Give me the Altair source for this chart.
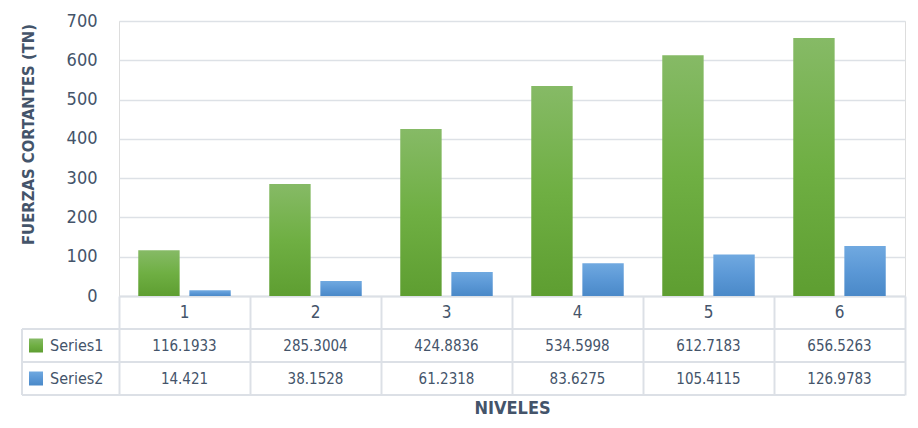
import altair as alt
import pandas as pd

levels = ["1", "2", "3", "4", "5", "6"]
series_names = ["Series1", "Series2"]
series1 = [116.1933, 285.3004, 424.8836, 534.5998, 612.7183, 656.5263]
series2 = [14.421, 38.1528, 61.2318, 83.6275, 105.4115, 126.9783]
series1_txt = ["116.1933", "285.3004", "424.8836", "534.5998", "612.7183", "656.5263"]
series2_txt = ["14.421", "38.1528", "61.2318", "83.6275", "105.4115", "126.9783"]
y_ticks = [0, 100, 200, 300, 400, 500, 600, 700]

rows = []
for i, lv in enumerate(levels):
    rows.append({"level": lv, "series": "Series1", "value": series1[i], "label": series1_txt[i]})
    rows.append({"level": lv, "series": "Series2", "value": series2[i], "label": series2_txt[i]})
df = pd.DataFrame(rows)

W, H = 786, 275
ROW = 33
FONT = "DejaVu Sans Condensed, sans-serif"
TXT = "#44546A"
LINE = "#DCE0E6"

green = alt.LinearGradient(gradient="linear", x1=0, x2=0, y1=0, y2=1,
                           stops=[alt.GradientStop(color="#86BA66", offset=0),
                                  alt.GradientStop(color="#6FAF43", offset=0.5),
                                  alt.GradientStop(color="#5E9E31", offset=1)])
blue = alt.LinearGradient(gradient="linear", x1=0, x2=0, y1=0, y2=1,
                          stops=[alt.GradientStop(color="#70A9E0", offset=0),
                                 alt.GradientStop(color="#5B98D6", offset=0.5),
                                 alt.GradientStop(color="#4A89C8", offset=1)])

xenc = alt.X("level:N", sort=levels,
             scale=alt.Scale(paddingInner=0, paddingOuter=0),
             axis=alt.Axis(title="NIVELES", labels=False, ticks=True, tickBand="extent",
                           tickSize=3 * ROW, tickColor=LINE, tickWidth=2,
                           domainColor=LINE, domainWidth=2,
                           titleFont=FONT, titleFontSize=18, titleFontWeight="bold",
                           titleColor=TXT, titlePadding=3))
yenc = alt.Y("value:Q", scale=alt.Scale(domain=[0, 700]),
             axis=alt.Axis(title="FUERZAS CORTANTES (TN)", values=y_ticks, ticks=False, domain=False,
                           grid=True, gridColor="#DDE1E6", gridWidth=1.5,
                           labelFont=FONT, labelFontSize=18, labelColor=TXT, labelPadding=22,
                           titleFont=FONT, titleFontSize=16.5, titleFontWeight="bold", titleColor=TXT,
                           titleX=-91, titleY=113, titleAlign="center", titleBaseline="middle"))
xoff = alt.XOffset("series:N", scale=alt.Scale(domain=series_names, paddingInner=0.19, paddingOuter=0.377))

base = alt.Chart(df)

bar1 = base.transform_filter(alt.datum.series == "Series1").mark_bar(color=green).encode(
    x=xenc, xOffset=xoff, y=yenc)
bar2 = base.transform_filter(alt.datum.series == "Series2").mark_bar(color=blue).encode(
    x=xenc, xOffset=xoff, y=yenc)

txt_kw = dict(font=FONT, color=TXT, baseline="middle", align="center")
header = base.transform_filter(alt.datum.series == "Series1").mark_text(fontSize=17, **txt_kw).encode(
    x=alt.X("level:N", sort=levels), y=alt.value(H + ROW / 2), text="level:N")
vals1 = base.transform_filter(alt.datum.series == "Series1").mark_text(fontSize=15, **txt_kw).encode(
    x=alt.X("level:N", sort=levels), y=alt.value(H + ROW * 1.5), text="label:N")
vals2 = base.transform_filter(alt.datum.series == "Series2").mark_text(fontSize=15, **txt_kw).encode(
    x=alt.X("level:N", sort=levels), y=alt.value(H + ROW * 2.5), text="label:N")

lab_kw = dict(font=FONT, color=TXT, baseline="middle", align="left", fontSize=16)
name1 = base.transform_filter((alt.datum.series == "Series1") & (alt.datum.level == "1")).mark_text(**lab_kw).encode(
    x=alt.value(-69), y=alt.value(H + ROW * 1.5), text="series:N")
name2 = base.transform_filter((alt.datum.series == "Series2") & (alt.datum.level == "1")).mark_text(**lab_kw).encode(
    x=alt.value(-69), y=alt.value(H + ROW * 2.5), text="series:N")

sq1 = base.transform_filter((alt.datum.series == "Series1") & (alt.datum.level == "1")).mark_rect(color=green).encode(
    x=alt.value(-90), x2=alt.value(-76), y=alt.value(H + ROW * 1.5 - 7), y2=alt.value(H + ROW * 1.5 + 7))
sq2 = base.transform_filter((alt.datum.series == "Series2") & (alt.datum.level == "1")).mark_rect(color=blue).encode(
    x=alt.value(-90), x2=alt.value(-76), y=alt.value(H + ROW * 2.5 - 7), y2=alt.value(H + ROW * 2.5 + 7))

rule_kw = dict(color=LINE, strokeWidth=2)
one = base.transform_filter((alt.datum.series == "Series1") & (alt.datum.level == "1"))
r1 = one.mark_rule(**rule_kw).encode(x=alt.value(-97), x2=alt.value(W), y=alt.value(H + ROW))
r2 = one.mark_rule(**rule_kw).encode(x=alt.value(-97), x2=alt.value(W), y=alt.value(H + 2 * ROW))
r3 = one.mark_rule(**rule_kw).encode(x=alt.value(-97), x2=alt.value(W), y=alt.value(H + 3 * ROW))
r4 = one.mark_rule(**rule_kw).encode(x=alt.value(-97), y=alt.value(H + ROW), y2=alt.value(H + 3 * ROW))

chart = alt.layer(bar1, bar2, header, vals1, vals2, r1, r2, r3, r4, sq1, sq2, name1, name2).properties(
    width=W, height=H,
    autosize=alt.AutoSizeParams(type="none"),
    padding={"left": 111, "top": 13, "right": 5, "bottom": 122},
).configure_view(stroke=None).configure(background="white")

chart.save("out.html", embed_options={"renderer": "svg", "actions": False})
